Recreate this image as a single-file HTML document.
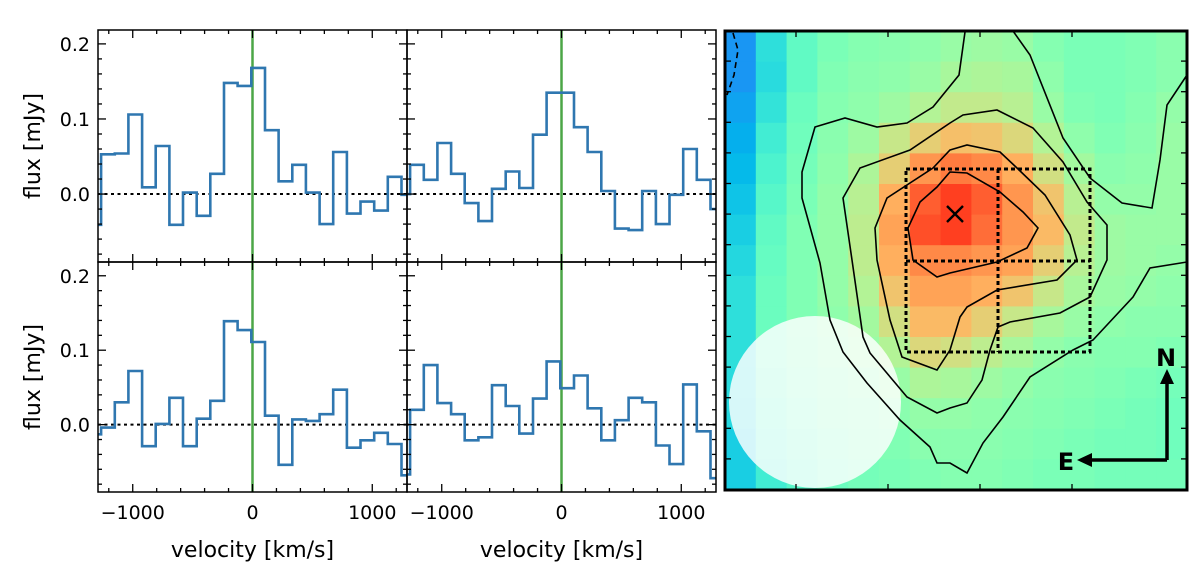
<!DOCTYPE html>
<html><head><meta charset="utf-8">
<style>
html,body{margin:0;padding:0;background:#fff;}
svg{display:block;font-family:"DejaVu Sans","Liberation Sans",sans-serif;}
</style></head>
<body>
<svg id="fig" width="1200" height="586" viewBox="0 0 1200 586" xmlns="http://www.w3.org/2000/svg">
<defs>
<clipPath id="clipA"><rect x="98" y="30" width="309" height="232"/></clipPath>
<clipPath id="clipB"><rect x="407" y="30" width="309" height="232"/></clipPath>
<clipPath id="clipC"><rect x="98" y="262" width="309" height="230"/></clipPath>
<clipPath id="clipD"><rect x="407" y="262" width="309" height="230"/></clipPath>
<clipPath id="clipM"><rect x="725" y="31" width="462" height="459"/></clipPath>
</defs>
<g id="spectra"></g>
<g id="map"></g>
</svg>
<script>
// ---- spectral data ----
const binWidth = 114;      // km/s
const firstEdge = -1378;   // km/s
const fluxTopLeft = [-0.041,0.053,0.054,0.106,0.009,0.064,-0.041,0.002,-0.029,0.027,0.148,0.144,0.168,0.085,0.017,0.039,0.002,-0.040,0.056,-0.026,-0.010,-0.022,0.023,-0.001];
const fluxTopMid = [0.000,0.039,0.019,0.068,0.027,-0.012,-0.036,0.007,0.030,0.008,0.079,0.135,0.135,0.089,0.056,0.004,-0.046,-0.048,0.004,-0.040,-0.001,0.060,0.019,-0.020];
const fluxBotLeft = [-0.013,-0.004,0.030,0.072,-0.029,0.001,0.036,-0.029,0.008,0.032,0.139,0.127,0.111,0.012,-0.054,0.007,0.005,0.014,0.047,-0.031,-0.021,-0.011,-0.026,-0.068];
const fluxBotMid = [-0.067,0.020,0.080,0.029,0.014,-0.021,-0.017,0.053,0.025,-0.012,0.035,0.085,0.049,0.066,0.022,-0.021,0.006,0.036,0.030,-0.028,-0.053,0.054,-0.009,-0.072];
const yTicks = [0.0,0.1,0.2];
const yTickLabels = ["0.0","0.1","0.2"];
const xTicks = [-1000,0,1000];
const xTickLabels = ["\u22121000","0","1000"];
const xMin=-1290, xMax=1290, yMin=-0.0905, yMax=0.2185;

// ---- map data (15x15 normalized intensity) ----
const mapGrid = [
[.20,.34,.44,.49,.51,.52,.53,.55,.56,.55,.51,.49,.49,.50,.52],
[.20,.33,.44,.50,.52,.53,.55,.58,.59,.58,.53,.49,.49,.50,.52],
[.22,.35,.46,.51,.53,.56,.60,.63,.63,.61,.55,.50,.49,.51,.54],
[.24,.38,.47,.52,.56,.64,.70,.73,.72,.68,.60,.53,.50,.52,.55],
[.26,.40,.48,.53,.59,.70,.80,.84,.82,.76,.66,.57,.52,.53,.55],
[.28,.42,.49,.54,.61,.76,.88,.92,.88,.80,.72,.61,.54,.54,.55],
[.30,.44,.50,.54,.62,.78,.90,.92,.86,.80,.74,.63,.56,.55,.55],
[.32,.45,.50,.54,.62,.76,.82,.82,.80,.78,.70,.61,.56,.55,.54],
[.34,.46,.50,.54,.60,.72,.78,.78,.76,.72,.64,.58,.55,.54,.53],
[.34,.46,.50,.53,.57,.66,.74,.74,.70,.64,.58,.55,.53,.52,.52],
[.34,.46,.49,.52,.55,.60,.68,.66,.62,.58,.54,.52,.51,.51,.50],
[.33,.44,.48,.50,.52,.55,.59,.58,.56,.54,.52,.51,.50,.49,.48],
[.32,.42,.46,.49,.50,.52,.54,.54,.53,.52,.51,.50,.49,.48,.47],
[.30,.40,.44,.47,.49,.50,.52,.52,.52,.51,.50,.49,.48,.48,.47],
[.30,.38,.42,.46,.48,.49,.50,.51,.51,.50,.49,.49,.48,.48,.48]];

const NS="http://www.w3.org/2000/svg";
function mk(tag,attrs,parent){const e=document.createElementNS(NS,tag);for(const k in attrs)e.setAttribute(k,attrs[k]);if(parent)parent.appendChild(e);return e;}

const panels=[
 {x0:98,x1:407,y0:30,y1:262,data:fluxTopLeft,clip:"clipA",yl:true,xl:false,name:"spectrum-top-left"},
 {x0:407,x1:716,y0:30,y1:262,data:fluxTopMid,clip:"clipB",yl:false,xl:false,name:"spectrum-top-middle"},
 {x0:98,x1:407,y0:262,y1:492,data:fluxBotLeft,clip:"clipC",yl:true,xl:true,name:"spectrum-bottom-left"},
 {x0:407,x1:716,y0:262,y1:492,data:fluxBotMid,clip:"clipD",yl:false,xl:true,name:"spectrum-bottom-middle"}];

const root=document.getElementById('spectra');
panels.forEach(p=>{
  const g=mk('g',{},root);
  
  
  const sx=v=>p.x0+(v-xMin)/(xMax-xMin)*(p.x1-p.x0);
  const sy=v=>p.y1-(v-yMin)/(yMax-yMin)*(p.y1-p.y0);
  const cg=mk('g',{'clip-path':'url(#'+p.clip+')'},g);
  let d='';
  p.data.forEach((v,i)=>{const a=sx(firstEdge+i*binWidth),b=sx(firstEdge+(i+1)*binWidth),y=sy(v);
    d+=(i===0?'M':'L')+a.toFixed(1)+','+y.toFixed(1)+'L'+b.toFixed(1)+','+y.toFixed(1);});
  const zl=mk('line',{x1:p.x0,x2:p.x1,y1:sy(0),y2:sy(0),stroke:'#000','stroke-width':2,'stroke-dasharray':'3,3.5'},cg);
  
  
  const gl=mk('line',{x1:sx(0),x2:sx(0),y1:p.y0,y2:p.y1,stroke:'#4ca646','stroke-width':2.5},cg);
  
  
  const sl=mk('path',{d:d,fill:'none',stroke:'#2f77b0','stroke-width':2.6},cg);
  
  
  for(let v=-1200;v<=1200;v+=200){const x=sx(v),L=(v%1000===0)?8:4;
    mk('line',{x1:x,x2:x,y1:p.y1,y2:p.y1-L,stroke:'#000','stroke-width':1.3},g);
    mk('line',{x1:x,x2:x,y1:p.y0,y2:p.y0+L,stroke:'#000','stroke-width':1.3},g);}
  for(let v=-0.08;v<=0.21;v+=0.02){const y=sy(v),mj=Math.abs(v*10-Math.round(v*10))<1e-6,L=mj?8:4;
    mk('line',{x1:p.x0,x2:p.x0+L,y1:y,y2:y,stroke:'#000','stroke-width':1.3},g);
    mk('line',{x1:p.x1,x2:p.x1-L,y1:y,y2:y,stroke:'#000','stroke-width':1.3},g);}
  const fr=mk('rect',{x:p.x0,y:p.y0,width:p.x1-p.x0,height:p.y1-p.y0,fill:'none',stroke:'#000','stroke-width':1.5},g);
  
  
  if(p.yl){
    yTicks.forEach((v,i)=>{const t=mk('text',{x:p.x0-8,y:sy(v)+7,'text-anchor':'end','font-size':19,fill:'#000'},g);t.textContent=yTickLabels[i];
      
      });
    const cy=(p.y0+p.y1)/2;
    const yt=mk('text',{x:40,y:cy,'text-anchor':'middle','font-size':22,transform:'rotate(-90 40 '+cy+')',fill:'#000'},g);yt.textContent='flux [mJy]';
    
    
  }
  if(p.xl){
    xTicks.forEach((v,i)=>{const t=mk('text',{x:sx(v),y:p.y1+27,'text-anchor':'middle','font-size':19,fill:'#000'},g);t.textContent=xTickLabels[i];
      
      });
    const xt=mk('text',{x:(p.x0+p.x1)/2,y:557,'text-anchor':'middle','font-size':22,fill:'#000'},g);xt.textContent='velocity [km/s]';
    
    
  }
});

// ---- map ----
function cmap(x){const r=Math.min(1,Math.max(0,Math.abs(2*x-0.5))),gg=Math.max(0,Math.sin(Math.PI*x)),b=Math.max(0,Math.cos(Math.PI*x/2));
  return 'rgb('+Math.round(r*255)+','+Math.round(gg*255)+','+Math.round(b*255)+')';}
const M=document.getElementById('map');
const mx0=725,my0=31,mw=462,mh=459,n=15,cw=mw/n,ch=mh/n;
const mg=mk('g',{'clip-path':'url(#clipM)'},M);
mapGrid.forEach((row,r)=>row.forEach((v,c)=>{
  const cell=mk('rect',{x:mx0+c*cw,y:my0+r*ch,width:cw+0.6,height:ch+0.6,fill:cmap(v)},mg);
  
  
}));
const beam=mk('circle',{cx:815,cy:402,r:86,fill:'#fff','fill-opacity':0.82},mg);


const contours=[
 "M965,32 L959,75 933,107 907,123 877,127 845,118 815,127 802,172 802,198 820,263 830,320 843,352 867,383 900,420 930,447 937,463 950,463 967,473 983,443 1003,417 1030,377 1073,350 1093,340 1133,297 1150,268 1187,262",
 "M1013,31 L1030,55 1063,138 1090,178 1122,203 1152,208 1160,160 1167,105 1187,75",
 "M950,123 L963,115 997,110 1033,128 1063,162 1087,202 1107,225 1107,260 1090,297 1060,313 1010,322 998,327 990,350 982,380 967,403 950,408 937,413 907,397 870,353 863,337 852,260 843,198 860,168 910,150 950,123 Z",
 "M950,150 L967,145 1000,152 1017,168 1045,195 1070,235 1077,260 1057,280 997,290 967,307 960,317 950,350 937,370 902,357 890,320 877,260 875,228 887,198 933,168 950,150 Z",
 "M950,172 L967,173 1000,192 1023,212 1038,228 1027,248 997,262 950,273 937,277 913,260 908,228 920,202 937,187 950,172 Z",
 "M733,33 L738,50 734,75 727,95"];
contours.forEach((d,i)=>{const c=mk('path',{d:d,fill:'none',stroke:'#000','stroke-width':1.6,'stroke-dasharray':i===5?'6,4':'none'},mg);
  
  });
const boxes=mk('g',{stroke:'#000','stroke-width':3,'stroke-dasharray':'4,3',fill:'none'},mg);


mk('rect',{x:906,y:169,width:184,height:183},boxes);
mk('line',{x1:906,x2:1090,y1:261,y2:261},boxes);
mk('line',{x1:998,x2:998,y1:169,y2:352},boxes);
const cross=mk('path',{d:'M947,206 L963,222 M963,206 L947,222',stroke:'#000','stroke-width':2.4},mg);


const comp=mk('g',{},M);


mk('path',{d:'M1167,460 L1167,382 M1167,460 L1090,460',stroke:'#000','stroke-width':3.5,fill:'none'},comp);
mk('path',{d:'M1160,384 L1167,369 1174,384 Z M1092,453 L1077,460 1092,467 Z',fill:'#000'},comp);
const tN=mk('text',{x:1166,y:366,'text-anchor':'middle','font-size':24,'font-weight':'bold',fill:'#000'},comp);tN.textContent='N';


const tE=mk('text',{x:1066,y:470,'text-anchor':'middle','font-size':24,'font-weight':'bold',fill:'#000'},comp);tE.textContent='E';


for(let k=0;k<4;k++){const x=796+k*92;
  mk('line',{x1:x,x2:x,y1:my0,y2:my0+6,stroke:'#000','stroke-width':1.3},M);
  mk('line',{x1:x,x2:x,y1:my0+mh,y2:my0+mh-6,stroke:'#000','stroke-width':1.3},M);}
for(let k=1;k<15;k++){const y=my0+k*30.6-0.5;
  mk('line',{x1:mx0,x2:mx0+6,y1:y,y2:y,stroke:'#000','stroke-width':1.3},M);
  mk('line',{x1:mx0+mw,x2:mx0+mw-6,y1:y,y2:y,stroke:'#000','stroke-width':1.3},M);}
const mf=mk('rect',{x:mx0,y:my0,width:mw,height:mh,fill:'none',stroke:'#000','stroke-width':3},M);


</script>
</body></html>
